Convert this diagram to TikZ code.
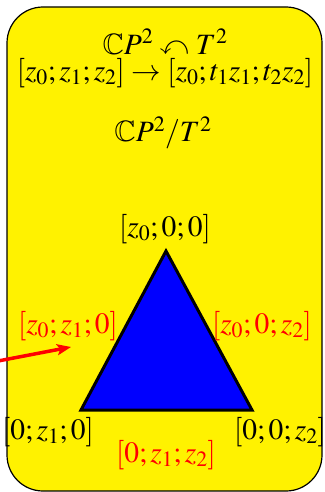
\documentclass[tikz,border=0pt]{standalone}
\usepackage{amssymb}
\usepackage{mathptmx}
\usetikzlibrary{arrows.meta}
\begin{document}
\begin{tikzpicture}[x=1pt,y=-1pt,
  lbl/.style={inner sep=0pt,font=\fontsize{29.5}{34}\selectfont},
  redlbl/.style={lbl,text=red}]
\useasboundingbox (0,0) rectangle (324,492);
\draw[line width=1.2pt,fill=yellow,rounded corners=36pt] (7,7) rectangle (322,491);
\node[lbl] (act) at (165,42) {$\mathbb{C}P^2 \curvearrowleft T^2$};
\node[lbl] (map) at (165,73) {$[z_0;z_1;z_2]\to[z_0;t_1z_1;t_2z_2]$};
\node[lbl] (quot) at (163,133) {$\mathbb{C}P^2/T^2$};
\coordinate (A) at (166,251);
\coordinate (B) at (81,410);
\coordinate (C) at (252,410);
\draw[line width=3pt,fill=blue,line join=miter] (A) -- (B) -- (C) -- cycle;
\node[lbl] (lA) at (165,229) {$[z_0;0;0]$};
\node[lbl] (lB) at (48,432) {$[0;z_1;0]$};
\node[lbl] (lC) at (280,432) {$[0;0;z_2]$};
\node[redlbl] (eAB) at (68,326) {$[z_0;z_1;0]$};
\node[redlbl] (eAC) at (262,326) {$[z_0;0;z_2]$};
\node[redlbl] (eBC) at (166,455) {$[0;z_1;z_2]$};
\coordinate (s) at (-2,361);
\coordinate (t) at (71,347);
\draw[red,line width=3.5pt,-{Stealth[length=14pt,width=11pt,inset=3pt]}] (s) -- (t);
\end{tikzpicture}
\end{document}
